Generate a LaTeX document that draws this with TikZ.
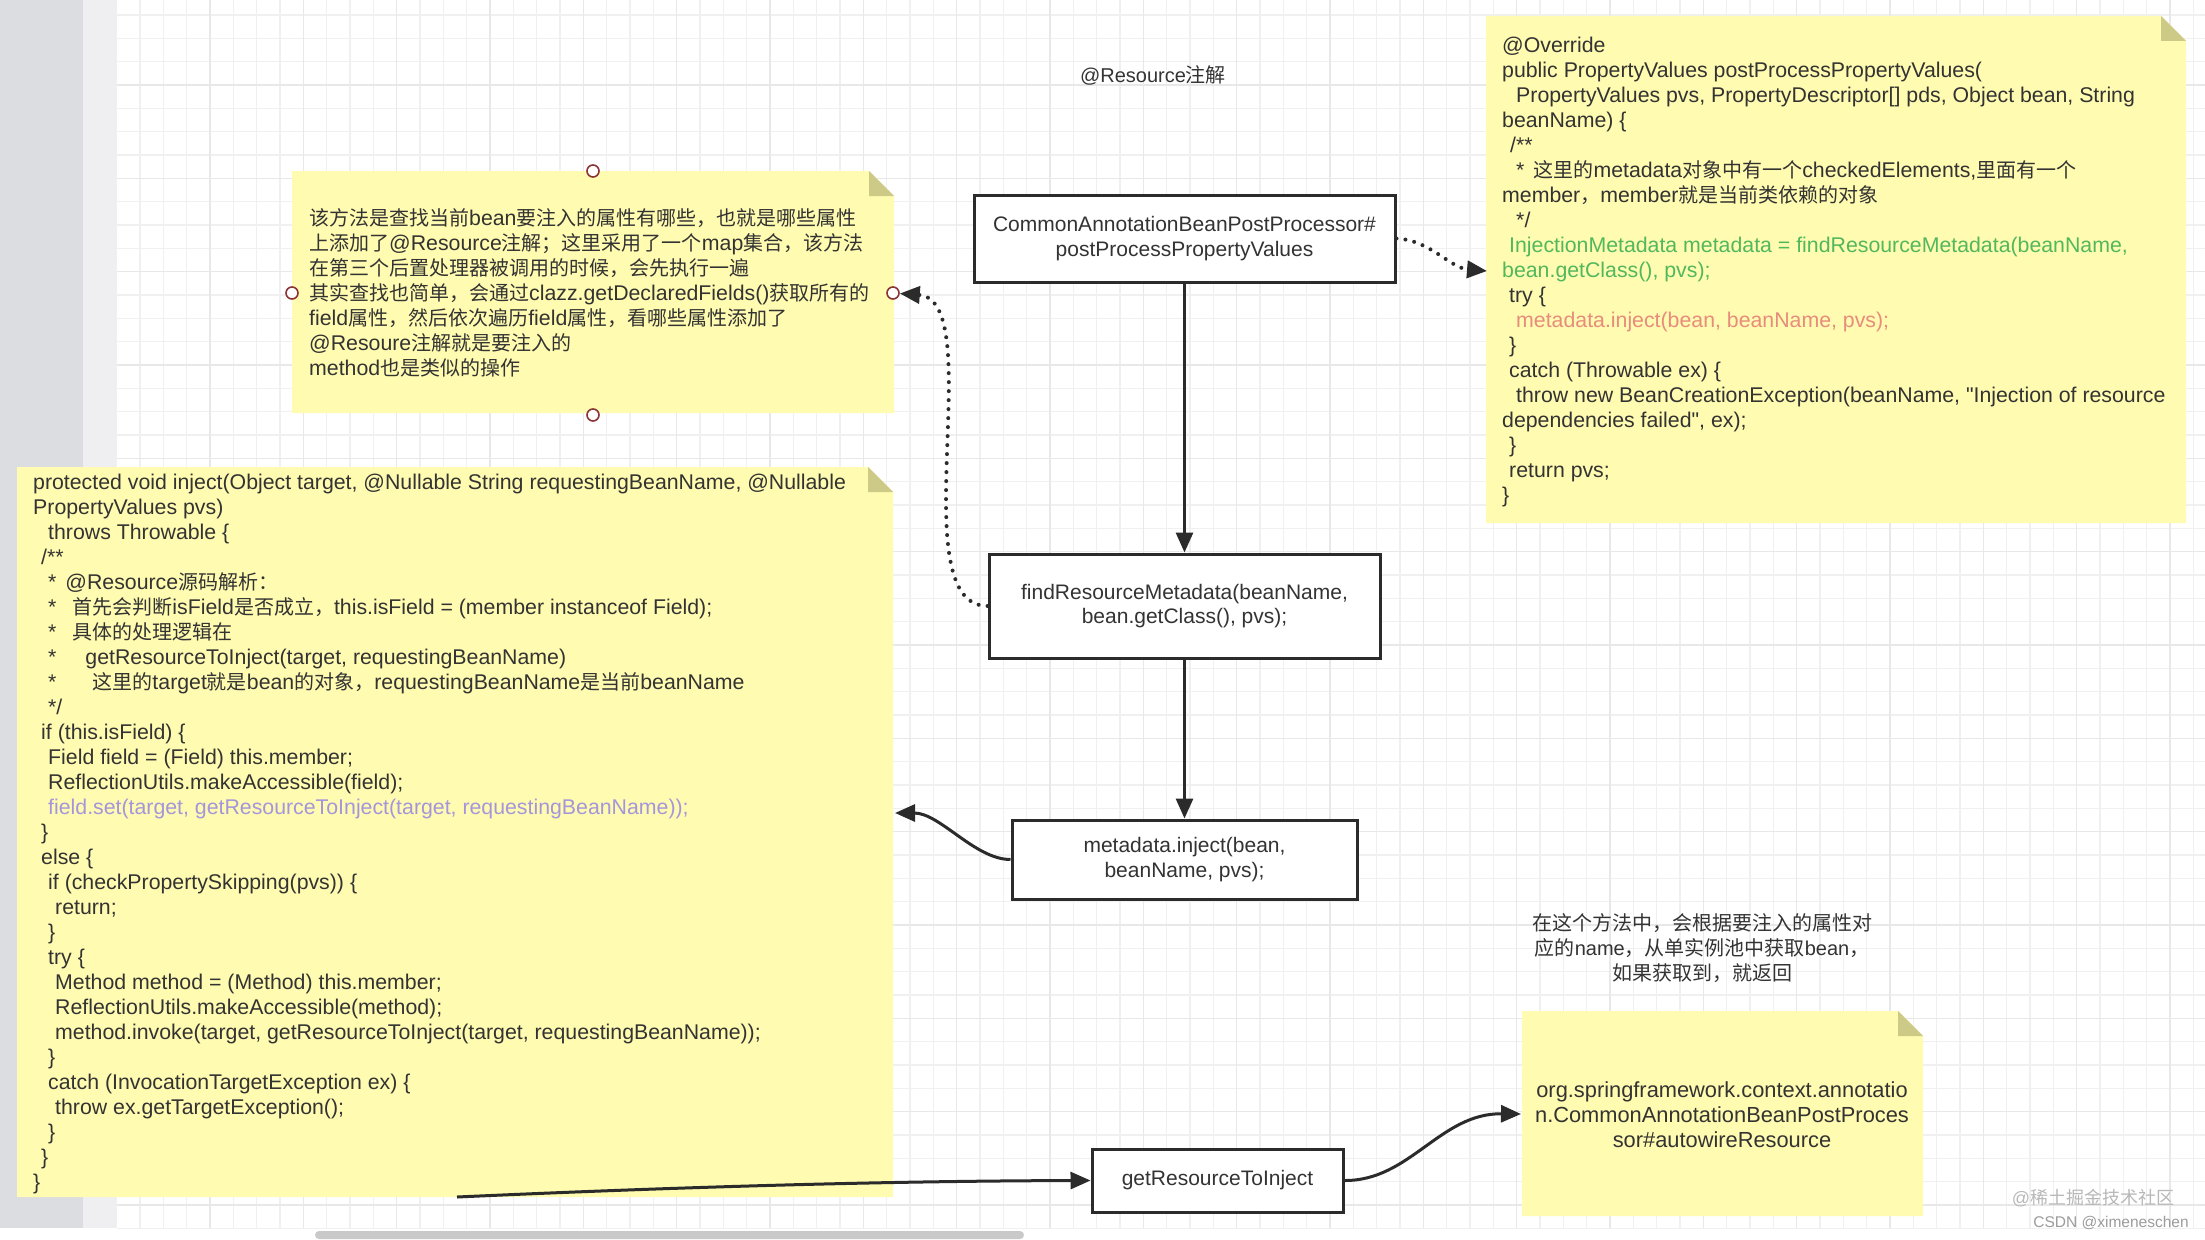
\documentclass[tikz,border=0pt]{standalone}
\usepackage{fontspec}
\setmainfont{Liberation Sans}
\newfontfamily\notefont{Liberation Sans}[Scale=1.065, Ligatures=TeXOff]
\newfontfamily\cjkfont{Noto Sans CJK SC}
\newcommand{\zh}[1]{{\cjkfont #1}}
\usetikzlibrary{arrows.meta}
\definecolor{txt}{HTML}{333333}
\definecolor{notey}{HTML}{FFFBB0}
\definecolor{foldc}{HTML}{CDCA88}
\definecolor{gridminor}{HTML}{F0F0F0}
\definecolor{gridmajor}{HTML}{E8E8E8}
\definecolor{stripa}{HTML}{DCDDE0}
\definecolor{stripb}{HTML}{EFEFF1}
\definecolor{boxline}{HTML}{2B2B2B}
\definecolor{hcol}{HTML}{8A3434}
\definecolor{grn}{HTML}{52B85E}
\definecolor{sal}{HTML}{E88C7D}
\definecolor{prp}{HTML}{A596DC}
\definecolor{wmark}{HTML}{B8B8B8}
\definecolor{sbar}{HTML}{C9C9C9}
\newcommand\stickynote[4]{%
  \fill[notey] (#1,#2) -- ({#3-25},#2) -- (#3,{#2+25}) -- (#3,#4) -- (#1,#4) -- cycle;
  \fill[foldc] ({#3-25},#2) -- ({#3-25},{#2+25}) -- (#3,{#2+25}) -- cycle;}
\tikzset{
  gmin/.style={draw=gridminor, line width=1.1pt},
  gmaj/.style={draw=gridmajor, line width=1.4pt},
  procbox/.style={draw=boxline, line width=3pt, fill=white, align=center,
    font=\fontsize{21}{24.5}\selectfont, text=txt, inner sep=0pt},
  notetext/.style={align=left, font=\notefont\fontsize{20}{25}\selectfont, text=txt, inner sep=0pt},
  cnotetext/.style={align=center, font=\notefont\fontsize{20}{25}\selectfont, text=txt, inner sep=0pt},
  handle/.style={circle, draw=hcol, fill=white, line width=1.6pt, minimum size=12pt, inner sep=0pt},
  arr/.style={draw=boxline, line width=3pt, -{Triangle[length=20pt,width=17pt]}},
  dotarr/.style={draw=boxline, line width=4pt, line cap=round, dash pattern=on 0pt off 9pt,
    -{Triangle[length=20pt,width=17pt]}},
}
\begin{document}
\begin{tikzpicture}[x=1pt,y=-1pt]
\useasboundingbox (0,0) rectangle (2205,1239);
% background
\fill[white] (0,0) rectangle (2205,1239);
\fill[stripa] (0,0) rectangle (83,1228);
\fill[stripb] (83,0) rectangle (117,1228);
\foreach \i in {0,...,89} \draw[gmin] ({116.667+23.3333*\i},0) -- ({116.667+23.3333*\i},1228);
\foreach \j in {0,...,52} \draw[gmin] (117,{15+23.3333*\j}) -- (2205,{15+23.3333*\j});
\foreach \i in {0,...,21} \draw[gmaj] ({210+93.3333*\i},0) -- ({210+93.3333*\i},1228);
\foreach \j in {0,...,12} \draw[gmaj] (117,{85+93.3333*\j}) -- (2205,{85+93.3333*\j});
\fill[sbar, rounded corners=4pt] (315,1231) rectangle (1024,1239);

% sticky notes
\stickynote{292}{171}{894}{413}
\stickynote{17}{467}{893}{1197}
\stickynote{1486}{16}{2186}{523}
\stickynote{1522}{1011}{1923}{1216}

% title
\node[text=txt, font=\fontsize{20}{24}\selectfont] (title) at (1153,75) {@Resource\zh{注解}};

% note 1 text
\node[notetext, anchor=north west] (desc) at (309,206) {\rule{0pt}{19pt}\zh{该方法是查找当前}bean\zh{要注入的属性有哪些，也就是哪些属性}\\
\zh{上添加了}@Resource\zh{注解；这里采用了一个}map\zh{集合，该方法}\\
\zh{在第三个后置处理器被调用的时候，会先执行一遍}\\
\zh{其实查找也简单，会通过}clazz.getDeclaredFields()\zh{获取所有的}\\
field\zh{属性，然后依次遍历}field\zh{属性，看哪些属性添加了}\\
@Resoure\zh{注解就是要注入的}\\
method\zh{也是类似的操作}};

% code note
\node[notetext, anchor=north west] (code) at (33,470) {\rule{0pt}{19pt}protected void inject(Object target, @Nullable String requestingBeanName, @Nullable\\
PropertyValues pvs)\\
\hspace*{15pt}throws Throwable \{\\
\hspace*{8pt}/**\\
\hspace*{15pt}*\hspace{9pt}@Resource\zh{源码解析：}\\
\hspace*{15pt}*\hspace{16pt}\zh{首先会判断}isField\zh{是否成立，}this.isField = (member instanceof Field);\\
\hspace*{15pt}*\hspace{16pt}\zh{具体的处理逻辑在}\\
\hspace*{15pt}*\hspace{29pt}getResourceToInject(target, requestingBeanName)\\
\hspace*{15pt}*\hspace{36pt}\zh{这里的}target\zh{就是}bean\zh{的对象，}requestingBeanName\zh{是当前}beanName\\
\hspace*{15pt}*/\\
\hspace*{8pt}if (this.isField) \{\\
\hspace*{15pt}Field field = (Field) this.member;\\
\hspace*{15pt}ReflectionUtils.makeAccessible(field);\\
\hspace*{15pt}{\color{prp}field.set(target, getResourceToInject(target, requestingBeanName));}\\
\hspace*{8pt}\}\\
\hspace*{8pt}else \{\\
\hspace*{15pt}if (checkPropertySkipping(pvs)) \{\\
\hspace*{22pt}return;\\
\hspace*{15pt}\}\\
\hspace*{15pt}try \{\\
\hspace*{22pt}Method method = (Method) this.member;\\
\hspace*{22pt}ReflectionUtils.makeAccessible(method);\\
\hspace*{22pt}method.invoke(target, getResourceToInject(target, requestingBeanName));\\
\hspace*{15pt}\}\\
\hspace*{15pt}catch (InvocationTargetException ex) \{\\
\hspace*{22pt}throw ex.getTargetException();\\
\hspace*{15pt}\}\\
\hspace*{8pt}\}\\
\}};

% right note
\node[notetext, anchor=north west] (ppv) at (1502,33) {\rule{0pt}{19pt}@Override\\
public PropertyValues postProcessPropertyValues(\\
\hspace*{14pt}PropertyValues pvs, PropertyDescriptor[] pds, Object bean, String\\
beanName) \{\\
\hspace*{8pt}/**\\
\hspace*{14pt}*\hspace{9pt}\zh{这里的}metadata\zh{对象中有一个}checkedElements,\zh{里面有一个}\\
member\zh{，}member\zh{就是当前类依赖的对象}\\
\hspace*{14pt}*/\\
\hspace*{7pt}{\color{grn}InjectionMetadata metadata = findResourceMetadata(beanName,}\\
{\color{grn}bean.getClass(), pvs);}\\
\hspace*{7pt}try \{\\
\hspace*{14pt}{\color{sal}metadata.inject(bean, beanName, pvs);}\\
\hspace*{7pt}\}\\
\hspace*{7pt}catch (Throwable ex) \{\\
\hspace*{14pt}throw new BeanCreationException(beanName, "Injection of resource\\
dependencies failed", ex);\\
\hspace*{7pt}\}\\
\hspace*{7pt}return pvs;\\
\}};

% caption above bottom-right note
\node[cnotetext, font=\fontsize{20}{25}\selectfont, anchor=north] (cap) at (1702,911) {\rule{0pt}{19pt}\zh{在这个方法中，会根据要注入的属性对}\\
\zh{应的}name\zh{，从单实例池中获取}bean\zh{，}\\
\zh{如果获取到，就返回}};

% bottom-right note text
\node[cnotetext, font=\notefont\fontsize{20.5}{25}\selectfont, anchor=north] (aw) at (1722,1078) {\rule{0pt}{19pt}org.springframework.context.annotatio\\
n.CommonAnnotationBeanPostProces\\
sor\#autowireResource};

% process boxes
\node[procbox, minimum width=421pt, minimum height=87pt] (pp) at (1184.5,238.5) {CommonAnnotationBeanPostProcessor\#\\postProcessPropertyValues};
\node[procbox, minimum width=391pt, minimum height=104pt] (fm) at (1184.5,606) {findResourceMetadata(beanName,\\bean.getClass(), pvs);};
\node[procbox, minimum width=345pt, minimum height=79pt] (mi) at (1184.5,859.5) {metadata.inject(bean,\\beanName, pvs);};
\node[procbox, minimum width=251pt, minimum height=63pt] (gr) at (1217.5,1180.5) {getResourceToInject};

% connection points
\node[handle] (h1t) at (593,171) {};
\node[handle] (h1b) at (593,415) {};
\node[handle] (h1l) at (292,293) {};
\coordinate (rn-in) at (1487,271);
\coordinate (cn-in) at (895,813);
\coordinate (cn-out) at (457,1197);
\coordinate (an-in) at (1521,1114);

% connectors
\draw[arr] (pp.south) -- (fm.north);
\draw[arr] (fm.south) -- (mi.north);
\draw[dotarr] (pp.east) .. controls (1430,240) and (1450,268) .. (rn-in);
\draw[arr] (mi.west) .. controls (975,859.5) and (940,813) .. (cn-in);
\draw[arr] (cn-out) .. controls (700,1186) and (900,1181) .. (gr.west);
\draw[arr] (gr.east) .. controls (1410,1181) and (1440,1113) .. (an-in);
\node[handle] (h1r) at (893,293) {};
\draw[dotarr] (fm.west) .. controls (900,606) and (990,300) .. (h1r);

% watermark
\node[text=wmark, font=\fontsize{18}{20}\selectfont] (wm1) at (2093,1198) {@\zh{稀土掘金技术社区}};
\node[text=wmark!85!black, font=\fontsize{15.5}{18}\selectfont] (wm2) at (2111,1223) {CSDN @ximeneschen};
\end{tikzpicture}
\end{document}
